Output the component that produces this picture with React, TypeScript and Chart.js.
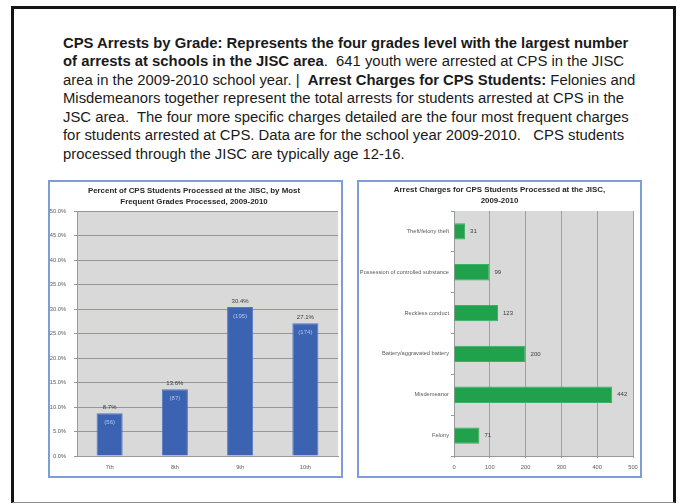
import React, { useEffect, useRef } from "react";
import { Chart, registerables } from "chart.js";
Chart.register(...registerables);

const grades = ["7th", "8th", "9th", "10th"];
const gradePercents = [8.7, 13.6, 30.4, 27.1];
const gradeCounts = [56, 87, 195, 174];

const charges = [
  "Theft/felony theft",
  "Possession of controlled substance",
  "Reckless conduct",
  "Battery/aggravated battery",
  "Misdemeanor",
  "Felony",
];
const chargeCounts = [31, 99, 123, 200, 442, 71];

const leftTitle = [
  "Percent of CPS Students Processed at the JISC, by Most",
  "Frequent Grades Processed, 2009-2010",
];
const rightTitle = ["Arrest Charges for CPS Students Processed at the JISC,", "2009-2010"];

const FONT = "'Liberation Sans', Arial, sans-serif";
const TICK_COLOR = "#5a5a5a";

const plotBg = {
  id: "plotBg",
  beforeDraw(chart: any) {
    const { ctx, chartArea: a } = chart;
    ctx.save();
    ctx.fillStyle = "#d9d9d9";
    ctx.fillRect(a.left, a.top, a.right - a.left, a.bottom - a.top);
    ctx.restore();
  },
};

const gradeLabels = {
  id: "gradeLabels",
  afterDatasetsDraw(chart: any) {
    const { ctx } = chart;
    const meta = chart.getDatasetMeta(0);
    ctx.save();
    ctx.textAlign = "center";
    ctx.textBaseline = "middle";
    meta.data.forEach((bar: any, i: number) => {
      ctx.font = `6px ${FONT}`;
      ctx.fillStyle = "#3a3a3a";
      ctx.fillText(gradePercents[i].toFixed(1) + "%", bar.x, bar.y - 6);
      ctx.fillStyle = "#b3c6ee";
      ctx.fillText(`(${gradeCounts[i]})`, bar.x, bar.y + 9);
    });
    ctx.restore();
  },
};

const chargeLabels = {
  id: "chargeLabels",
  afterDatasetsDraw(chart: any) {
    const { ctx } = chart;
    const meta = chart.getDatasetMeta(0);
    ctx.save();
    ctx.textAlign = "left";
    ctx.textBaseline = "middle";
    ctx.font = `6px ${FONT}`;
    ctx.fillStyle = "#3a3a3a";
    meta.data.forEach((bar: any, i: number) => {
      ctx.fillText(String(chargeCounts[i]), bar.x + 5, bar.y);
    });
    ctx.restore();
  },
};

function GradeChart() {
  const ref = useRef<HTMLCanvasElement>(null);
  useEffect(() => {
    const chart = new Chart(ref.current!, {
      type: "bar",
      data: {
        labels: grades,
        datasets: [
          {
            data: gradePercents,
            backgroundColor: "#3b63b2",
            borderColor: "#5479c2",
            borderWidth: 1,
            barPercentage: 0.4,
            categoryPercentage: 1,
          },
        ],
      },
      options: {
        animation: false,
        responsive: false,
        maintainAspectRatio: false,
        layout: { padding: { left: 0, right: 3, top: 0, bottom: 0 } },
        plugins: {
          legend: { display: false },
          tooltip: { enabled: false },
          title: {
            display: true,
            text: leftTitle,
            color: "#262626",
            font: { family: FONT, size: 7.9, weight: "bold", lineHeight: 1.33 },
            padding: { top: 4, bottom: 4 },
          },
        },
        scales: {
          x: {
            grid: { display: false, drawTicks: false, tickLength: 0 },
            border: { color: "#9a9a9a" },
            ticks: { color: TICK_COLOR, font: { family: FONT, size: 5.7 }, padding: 8 },
            afterFit(s: any) {
              s.height = 20;
            },
          },
          y: {
            min: 0,
            max: 50,
            ticks: {
              stepSize: 5,
              color: TICK_COLOR,
              font: { family: FONT, size: 5.7 },
              padding: 8,
              callback: (v: any) => Number(v).toFixed(1) + "%",
            },
            grid: { color: "#999590", tickLength: 3 },
            border: { color: "#9a9a9a" },
            afterFit(s: any) {
              s.width = 27;
            },
          },
        },
      },
      plugins: [plotBg, gradeLabels],
    });
    return () => chart.destroy();
  }, []);
  return <canvas ref={ref} width={291} height={294} style={{ display: "block" }} />;
}

function ChargeChart() {
  const ref = useRef<HTMLCanvasElement>(null);
  useEffect(() => {
    const chart = new Chart(ref.current!, {
      type: "bar",
      data: {
        labels: charges,
        datasets: [
          {
            data: chargeCounts,
            backgroundColor: "#1fa24b",
            borderColor: "#3ab062",
            borderWidth: 1,
            barPercentage: 0.4,
            categoryPercentage: 1,
          },
        ],
      },
      options: {
        indexAxis: "y",
        animation: false,
        responsive: false,
        maintainAspectRatio: false,
        layout: { padding: { left: 0, right: 0, top: 0, bottom: 0 } },
        plugins: {
          legend: { display: false },
          tooltip: { enabled: false },
          title: {
            display: true,
            text: rightTitle,
            color: "#262626",
            font: { family: FONT, size: 7.9, weight: "bold", lineHeight: 1.33 },
            padding: { top: 3, bottom: 5 },
          },
        },
        scales: {
          x: {
            min: 0,
            max: 500,
            ticks: { stepSize: 100, color: TICK_COLOR, font: { family: FONT, size: 5.7 }, padding: 6 },
            grid: { color: "#a0a0a0", tickLength: 2 },
            border: { color: "#9a9a9a" },
            afterFit(s: any) {
              s.height = 20;
              s.paddingRight = 7;
              s.paddingLeft = 0;
            },
          },
          y: {
            ticks: { color: TICK_COLOR, font: { family: FONT, size: 5.7 }, padding: 2 },
            grid: { drawOnChartArea: false, tickLength: 3, color: "#9a9a9a", offset: true },
            border: { color: "#9a9a9a" },
            afterFit(s: any) {
              s.width = 95;
            },
          },
        },
      },
      plugins: [plotBg, chargeLabels],
    });
    return () => chart.destroy();
  }, []);
  return <canvas ref={ref} width={281} height={294} style={{ display: "block" }} />;
}

const lines: React.ReactNode[] = [
  <b>CPS Arrests by Grade: Represents the four grades level with the largest number</b>,
  <>
    <b>of arrests at schools in the JISC area</b>.  641 youth were arrested at CPS in the JISC
  </>,
  <>
    area in the 2009-2010 school year. |  <b>Arrest Charges for CPS Students:</b> Felonies and
  </>,
  <>Misdemeanors together represent the total arrests for students arrested at CPS in the</>,
  <>JSC area.  The four more specific charges detailed are the four most frequent charges</>,
  <>for students arrested at CPS. Data are for the school year 2009-2010.   CPS students</>,
  <>processed through the JISC are typically age 12-16.</>,
];

export default function App() {
  return (
    <div
      style={{
        position: "fixed",
        left: 0,
        top: 0,
        width: 681,
        height: 504,
        background: "#ffffff",
        overflow: "hidden",
      }}
    >
      <div
        style={{
          position: "absolute",
          left: 11,
          top: 6,
          width: 659,
          height: 493,
          borderTop: "3px solid #141414",
          borderLeft: "3px solid #141414",
          borderRight: "3px solid #141414",
          borderBottom: "1px solid #8a8a8a",
        }}
      />
      <div
        style={{
          position: "absolute",
          left: 63,
          top: 33.5,
          fontFamily: FONT,
          fontSize: 14.85,
          lineHeight: "18.6px",
          color: "#1a1a1a",
          whiteSpace: "pre",
        }}
      >
        {lines.map((l, i) => (
          <div key={i}>{l}</div>
        ))}
      </div>
      <div
        style={{
          position: "absolute",
          left: 48,
          top: 180,
          width: 291,
          height: 294,
          border: "2px solid #7d9dd6",
        }}
      >
        <GradeChart />
      </div>
      <div
        style={{
          position: "absolute",
          left: 357,
          top: 180,
          width: 281,
          height: 294,
          border: "2px solid #7d9dd6",
        }}
      >
        <ChargeChart />
      </div>
    </div>
  );
}
